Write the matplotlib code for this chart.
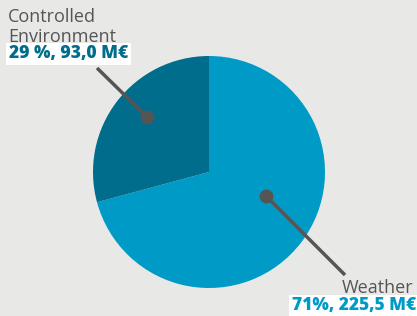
import matplotlib.pyplot as plt

labels = ["Weather", "Controlled\nEnvironment"]
values = [225.5, 93.0]
shares = ["71%, 225,5 M€", "29 %, 93,0 M€"]
colors = ["#009ac7", "#006d8c"]

W, H = 417, 316
bg = "#e8e9e7"
grey = "#555555"

fig = plt.figure(figsize=(W / 100, H / 100), dpi=100, facecolor=bg)
ax = fig.add_axes([0, 0, 1, 1])

cx, cy, r = 209, H - 172, 116
ax.pie(values, colors=colors, startangle=90, counterclock=False,
       center=(cx, cy), radius=r, frame=True,
       wedgeprops=dict(linewidth=0))
ax.set_xlim(0, W)
ax.set_ylim(0, H)
ax.set_aspect("equal")
ax.axis("off")

# leader lines
ax.plot([147, 97], [H - 117, H - 68], color=grey, lw=2.5, solid_capstyle="butt")
ax.plot(147, H - 117, "o", color=grey, ms=9)
ax.plot([266, 345], [H - 196, H - 275], color=grey, lw=2.5, solid_capstyle="butt")
ax.plot(266, H - 196, "o", color=grey, ms=9)

font = "Open Sans"
for i, line in enumerate(labels[1].split("\n")):
    ax.text(8, H - 22 - 20.5 * i, line, ha="left", va="baseline",
            fontsize=13, color=grey, family=font)
ax.text(9, H - 54, shares[1], ha="left", va="center", fontsize=12.5,
        color=colors[1], family=font, fontweight=800,
        bbox=dict(boxstyle="square,pad=0.15", fc="white", ec="none"))
ax.text(413, H - 293, labels[0], ha="right", va="baseline", fontsize=13,
        color=grey, family=font)
ax.text(416, H - 306, shares[0], ha="right", va="center", fontsize=12.5,
        color=colors[0], family=font, fontweight=800,
        bbox=dict(boxstyle="square,pad=0.15", fc="white", ec="none"))

fig.savefig("out.png", dpi=100, facecolor=bg)
